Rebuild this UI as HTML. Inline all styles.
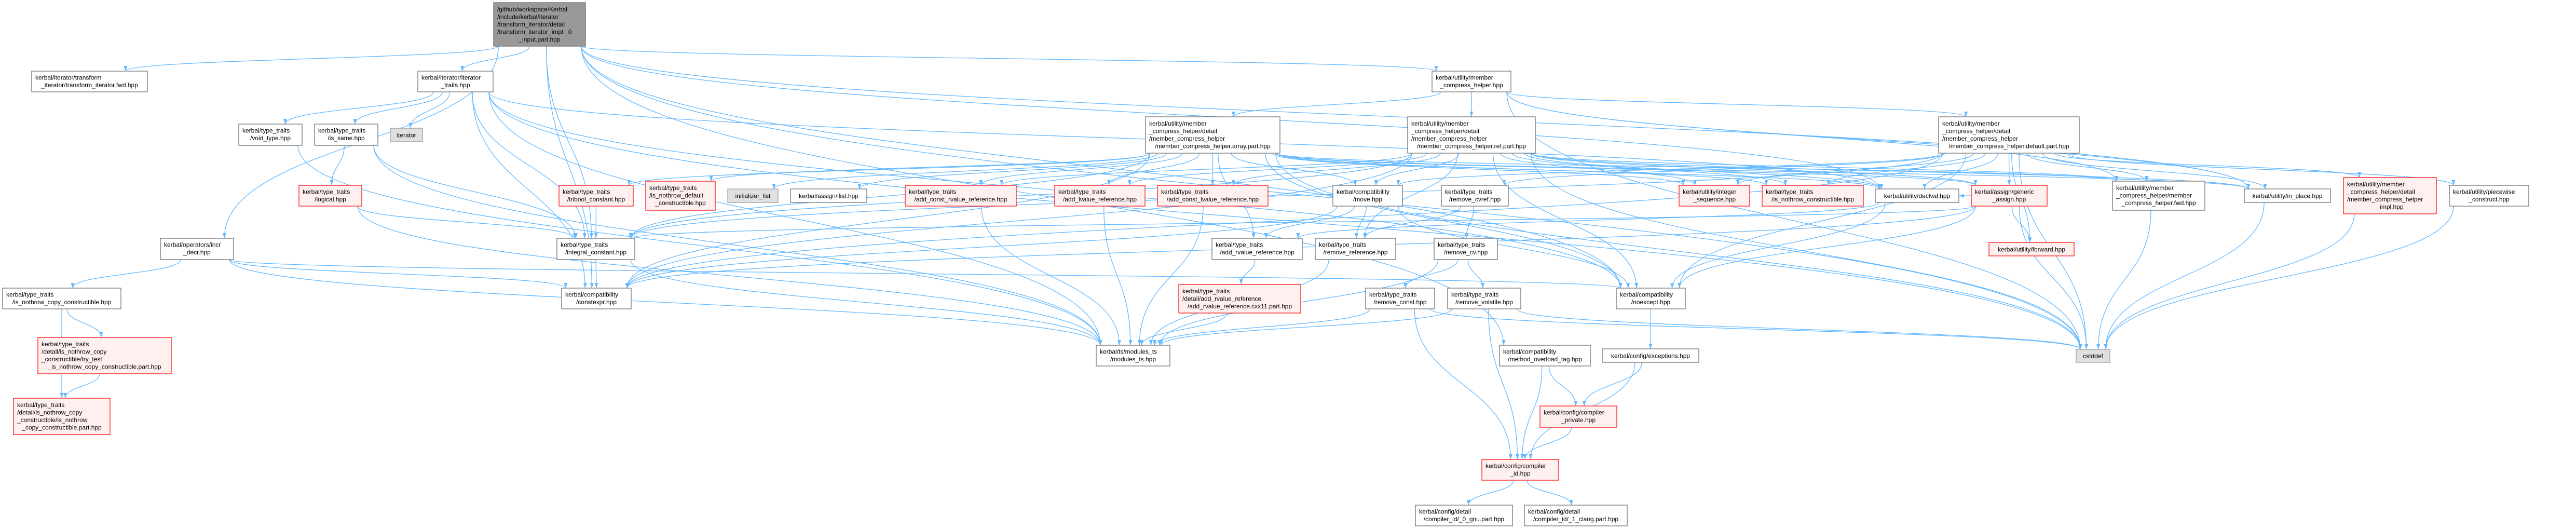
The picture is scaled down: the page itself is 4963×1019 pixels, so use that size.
<!DOCTYPE html>
<html><head><meta charset="utf-8">
<style>
html,body{margin:0;padding:0;background:#fff;}
svg{display:block;}
text{font-family:"Liberation Sans",sans-serif;font-size:12px;fill:#000;}
.n rect{fill:#fff;stroke:#666;stroke-width:1.2;}
.r rect{fill:#fff0f0;stroke:#f00;stroke-width:1.2;}
.g rect{fill:#e0e0e0;stroke:#999;stroke-width:1.2;}
.m rect{fill:#999;stroke:#666;stroke-width:1.2;}
.c{text-anchor:middle;}
</style></head>
<body>
<svg id="s" width="4963" height="1019" viewBox="0 0 4963 1019" xmlns="http://www.w3.org/2000/svg">
<defs><marker id="a" markerUnits="userSpaceOnUse" markerWidth="11" markerHeight="8" refX="10" refY="3.5" orient="auto"><path d="M0,0 L10,3.5 L0,7 z" fill="#63b8ff"/></marker></defs>
<g id="edges" fill="none" stroke="#63b8ff" stroke-width="1.3"></g>
<g id="nodes">
<g class="m"><rect x="951" y="5" width="177" height="84"/><text x="958" y="21.75">/github/workspace/Kerbal</text><text x="958" y="36.25">/include/kerbal/iterator</text><text x="958" y="50.75">/transform_iterator/detail</text><text x="958" y="65.25">/transform_iterator_impl._0</text><text class="c" x="1039.5" y="79.75">_input.part.hpp</text></g>
<g class="n"><rect x="61" y="137" width="223" height="40"/><text x="68" y="153.5">kerbal/iterator/transform</text><text class="c" x="172.5" y="168">_iterator/transform_iterator.fwd.hpp</text></g>
<g class="n"><rect x="805" y="137" width="145" height="40"/><text x="812" y="153.5">kerbal/iterator/iterator</text><text class="c" x="877.5" y="168">_traits.hpp</text></g>
<g class="n"><rect x="460" y="239" width="122" height="41"/><text x="467" y="255.5">kerbal/type_traits</text><text class="c" x="521" y="270">/void_type.hpp</text></g>
<g class="n"><rect x="606" y="239" width="122" height="41"/><text x="613" y="255.5">kerbal/type_traits</text><text class="c" x="667" y="270">/is_same.hpp</text></g>
<g class="g"><rect x="752" y="247" width="62" height="26"/><text class="c" x="783" y="264.5">iterator</text></g>
<g class="r"><rect x="576" y="357" width="121" height="40"/><text x="583" y="373.5">kerbal/type_traits</text><text class="c" x="636.5" y="388">/logical.hpp</text></g>
<g class="n"><rect x="309" y="459" width="141" height="41"/><text x="316" y="475.5">kerbal/operators/incr</text><text class="c" x="379.5" y="490">_decr.hpp</text></g>
<g class="n"><rect x="5" y="555" width="228" height="40"/><text x="12" y="571.5">kerbal/type_traits</text><text class="c" x="119" y="586">/is_nothrow_copy_constructible.hpp</text></g>
<g class="r"><rect x="73" y="650" width="257" height="70"/><text x="80" y="667">kerbal/type_traits</text><text x="80" y="681.5">/detail/is_nothrow_copy</text><text x="80" y="696">_constructible/try_test</text><text class="c" x="201.5" y="710.5">_is_nothrow_copy_constructible.part.hpp</text></g>
<g class="r"><rect x="26" y="767" width="186" height="70"/><text x="33" y="784">kerbal/type_traits</text><text x="33" y="798.5">/detail/is_nothrow_copy</text><text x="33" y="813">_constructible/is_nothrow</text><text class="c" x="119" y="827.5">_copy_constructible.part.hpp</text></g>
<g class="r"><rect x="1077" y="357" width="143" height="40"/><text x="1084" y="373.5">kerbal/type_traits</text><text class="c" x="1148.5" y="388">/tribool_constant.hpp</text></g>
<g class="r"><rect x="1244" y="349" width="134" height="56"/><text x="1251" y="366">kerbal/type_traits</text><text x="1251" y="380.5">/is_nothrow_default</text><text class="c" x="1311" y="395">_constructible.hpp</text></g>
<g class="g"><rect x="1402" y="364" width="97" height="26"/><text class="c" x="1450.5" y="381.5">initializer_list</text></g>
<g class="n"><rect x="1523" y="364" width="147" height="26"/><text class="c" x="1596.5" y="381.5">kerbal/assign/ilist.hpp</text></g>
<g class="r"><rect x="1744" y="357" width="214" height="40"/><text x="1751" y="373.5">kerbal/type_traits</text><text class="c" x="1851" y="388">/add_const_rvalue_reference.hpp</text></g>
<g class="n"><rect x="1073" y="459" width="150" height="41"/><text x="1080" y="475.5">kerbal/type_traits</text><text class="c" x="1148" y="490">/integral_constant.hpp</text></g>
<g class="n"><rect x="1082" y="555" width="134" height="40"/><text x="1089" y="571.5">kerbal/compatibility</text><text class="c" x="1149" y="586">/constexpr.hpp</text></g>
<g class="n"><rect x="2759" y="137" width="152" height="40"/><text x="2766" y="153.5">kerbal/utility/member</text><text class="c" x="2835" y="168">_compress_helper.hpp</text></g>
<g class="n"><rect x="2207" y="225" width="259" height="70"/><text x="2214" y="242">kerbal/utility/member</text><text x="2214" y="256.5">_compress_helper/detail</text><text x="2214" y="271">/member_compress_helper</text><text class="c" x="2336.5" y="285.5">/member_compress_helper.array.part.hpp</text></g>
<g class="n"><rect x="2712" y="225" width="246" height="70"/><text x="2719" y="242">kerbal/utility/member</text><text x="2719" y="256.5">_compress_helper/detail</text><text x="2719" y="271">/member_compress_helper</text><text class="c" x="2835" y="285.5">/member_compress_helper.ref.part.hpp</text></g>
<g class="n"><rect x="3735" y="225" width="271" height="70"/><text x="3742" y="242">kerbal/utility/member</text><text x="3742" y="256.5">_compress_helper/detail</text><text x="3742" y="271">/member_compress_helper</text><text class="c" x="3870.5" y="285.5">/member_compress_helper.default.part.hpp</text></g>
<g class="r"><rect x="2032" y="357" width="174" height="40"/><text x="2039" y="373.5">kerbal/type_traits</text><text class="c" x="2119" y="388">/add_lvalue_reference.hpp</text></g>
<g class="r"><rect x="2230" y="357" width="213" height="40"/><text x="2237" y="373.5">kerbal/type_traits</text><text class="c" x="2336.5" y="388">/add_const_lvalue_reference.hpp</text></g>
<g class="n"><rect x="2568" y="357" width="134" height="40"/><text x="2575" y="373.5">kerbal/compatibility</text><text class="c" x="2635" y="388">/move.hpp</text></g>
<g class="n"><rect x="2777" y="357" width="129" height="40"/><text x="2784" y="373.5">kerbal/type_traits</text><text class="c" x="2841.5" y="388">/remove_cvref.hpp</text></g>
<g class="r"><rect x="3235" y="357" width="136" height="40"/><text x="3242" y="373.5">kerbal/utility/integer</text><text class="c" x="3303" y="388">_sequence.hpp</text></g>
<g class="r"><rect x="3395" y="357" width="195" height="40"/><text x="3402" y="373.5">kerbal/type_traits</text><text class="c" x="3492.5" y="388">/is_nothrow_constructible.hpp</text></g>
<g class="n"><rect x="3613" y="364" width="161" height="26"/><text class="c" x="3693.5" y="381.5">kerbal/utility/declval.hpp</text></g>
<g class="r"><rect x="3798" y="357" width="146" height="40"/><text x="3805" y="373.5">kerbal/assign/generic</text><text class="c" x="3871" y="388">_assign.hpp</text></g>
<g class="r"><rect x="3832" y="467" width="164" height="26"/><text class="c" x="3914" y="484.5">kerbal/utility/forward.hpp</text></g>
<g class="n"><rect x="4070" y="349" width="178" height="56"/><text x="4077" y="366">kerbal/utility/member</text><text x="4077" y="380.5">_compress_helper/member</text><text class="c" x="4159" y="395">_compress_helper.fwd.hpp</text></g>
<g class="n"><rect x="4324" y="364" width="166" height="26"/><text class="c" x="4407" y="381.5">kerbal/utility/in_place.hpp</text></g>
<g class="r"><rect x="4515" y="342" width="179" height="70"/><text x="4522" y="359">kerbal/utility/member</text><text x="4522" y="373.5">_compress_helper/detail</text><text x="4522" y="388">/member_compress_helper</text><text class="c" x="4604.5" y="402.5">_impl.hpp</text></g>
<g class="n"><rect x="4719" y="357" width="153" height="40"/><text x="4726" y="373.5">kerbal/utility/piecewise</text><text class="c" x="4795.5" y="388">_construct.hpp</text></g>
<g class="n"><rect x="2335" y="459" width="174" height="41"/><text x="2342" y="475.5">kerbal/type_traits</text><text class="c" x="2422" y="490">/add_rvalue_reference.hpp</text></g>
<g class="n"><rect x="2534" y="459" width="155" height="41"/><text x="2541" y="475.5">kerbal/type_traits</text><text class="c" x="2611.5" y="490">/remove_reference.hpp</text></g>
<g class="n"><rect x="2763" y="459" width="122" height="41"/><text x="2770" y="475.5">kerbal/type_traits</text><text class="c" x="2824" y="490">/remove_cv.hpp</text></g>
<g class="r"><rect x="2271" y="548" width="235" height="55"/><text x="2278" y="565">kerbal/type_traits</text><text x="2278" y="579.5">/detail/add_rvalue_reference</text><text class="c" x="2388.5" y="594">/add_rvalue_reference.cxx11.part.hpp</text></g>
<g class="n"><rect x="2631" y="555" width="133" height="40"/><text x="2638" y="571.5">kerbal/type_traits</text><text class="c" x="2697.5" y="586">/remove_const.hpp</text></g>
<g class="n"><rect x="2789" y="555" width="141" height="40"/><text x="2796" y="571.5">kerbal/type_traits</text><text class="c" x="2859.5" y="586">/remove_volatile.hpp</text></g>
<g class="n"><rect x="3114" y="555" width="133" height="40"/><text x="3121" y="571.5">kerbal/compatibility</text><text class="c" x="3180.5" y="586">/noexcept.hpp</text></g>
<g class="n"><rect x="2112" y="665" width="142" height="40"/><text x="2119" y="681.5">kerbal/ts/modules_ts</text><text class="c" x="2183" y="696">/modules_ts.hpp</text></g>
<g class="n"><rect x="2889" y="665" width="175" height="40"/><text x="2896" y="681.5">kerbal/compatibility</text><text class="c" x="2976.5" y="696">/method_overload_tag.hpp</text></g>
<g class="n"><rect x="3087" y="672" width="186" height="26"/><text class="c" x="3180" y="689.5">kerbal/config/exceptions.hpp</text></g>
<g class="g"><rect x="4000" y="673" width="65" height="25"/><text class="c" x="4032.5" y="690">cstddef</text></g>
<g class="r"><rect x="2967" y="782" width="148" height="41"/><text x="2974" y="798.5">kerbal/config/compiler</text><text class="c" x="3041" y="813">_private.hpp</text></g>
<g class="r"><rect x="2855" y="885" width="148" height="40"/><text x="2862" y="901.5">kerbal/config/compiler</text><text class="c" x="2929" y="916">_id.hpp</text></g>
<g class="n"><rect x="2727" y="973" width="187" height="40"/><text x="2734" y="989.5">kerbal/config/detail</text><text class="c" x="2820.5" y="1004">/compiler_id/_0_gnu.part.hpp</text></g>
<g class="n"><rect x="2937" y="973" width="198" height="40"/><text x="2944" y="989.5">kerbal/config/detail</text><text class="c" x="3036" y="1004">/compiler_id/_1_clang.part.hpp</text></g>
</g>
</svg>
<script>
(function(){
var B={M:[951,5,1128,89],TF:[61,137,284,177],IT:[805,137,950,177],VT:[460,239,582,280],IS:[606,239,728,280],ITR:[752,247,814,273],LG:[576,357,697,397],ID:[309,459,450,500],NCC:[5,555,233,595],TT:[73,650,330,720],NCP:[26,767,212,837],TB:[1077,357,1220,397],ND:[1244,349,1378,405],IL:[1402,364,1499,390],AI:[1523,364,1670,390],ACR:[1744,357,1958,397],IC:[1073,459,1223,500],CE:[1082,555,1216,595],MCH:[2759,137,2911,177],AP:[2207,225,2466,295],RP:[2712,225,2958,295],DP:[3735,225,4006,295],ALR:[2032,357,2206,397],ACL:[2230,357,2443,397],MV:[2568,357,2702,397],RCR:[2777,357,2906,397],IS2:[3235,357,3371,397],NC:[3395,357,3590,397],DV:[3613,364,3774,390],GA:[3798,357,3944,397],FW:[3832,467,3996,493],FWD:[4070,349,4248,405],IP:[4324,364,4490,390],IMPL:[4515,342,4694,412],PC:[4719,357,4872,397],ARR:[2335,459,2509,500],RR:[2534,459,2689,500],RCV:[2763,459,2885,500],CXX:[2271,548,2506,603],RC:[2631,555,2764,595],RV:[2789,555,2930,595],NE:[3114,555,3247,595],MTS:[2112,665,2254,705],MOT:[2889,665,3064,705],EX:[3087,672,3273,698],CS:[4000,673,4065,698],CP:[2967,782,3115,823],CID:[2855,885,3003,925],GNU:[2727,973,2914,1013],CL:[2937,973,3135,1013]};
var E="M>TF M>IT M>ID M>IC M>CE M>MCH M>NE M>CS M>IP M>MOT M>DV "+
"IT>VT IT>IS IT>ITR IT>IC IT>CE IT>MTS IT>NE IT>DV IT>CS "+
"VT>MTS IS>LG IS>IC IS>MTS LG>IC LG>MTS ID>NCC ID>CE ID>NE ID>MTS "+
"NCC>TT NCC>NCP TT>NCP TB>IC IC>CE IC>MTS "+
"MCH>AP MCH>RP MCH>DP MCH>FWD MCH>IP MCH>CS "+
"AP>TB AP>ND AP>IL AP>AI AP>ACR AP>ALR AP>ACL AP>MV AP>IC AP>CE AP>NE AP>IS2 AP>NC AP>DV AP>GA AP>FWD AP>IP AP>CS AP>ARR "+
"RP>ALR RP>ACL RP>ACR RP>MV RP>RR RP>IC RP>CE RP>NE RP>FWD RP>IP RP>DV RP>NC RP>GA RP>IS2 RP>CS "+
"DP>IS2 DP>NC DP>DV DP>GA DP>FW DP>FWD DP>IP DP>IMPL DP>PC DP>RCR DP>MV DP>CE DP>NE DP>CS DP>IC "+
"ALR>MTS ACL>MTS ACR>MTS MV>RR MV>ARR MV>CE MV>NE RCR>RR RCR>RCV ARR>CXX CXX>MTS RR>MTS "+
"RCV>RC RCV>RV RCV>MTS RC>MTS RC>CID RC>CS RV>MTS RV>CID RV>CS DV>ARR DV>NE "+
"GA>FW GA>DV GA>CE GA>NE GA>CS GA>IC NE>EX EX>CP EX>CID MOT>CID MOT>CP CP>CID CID>GNU CID>CL "+
"FWD>CS IP>CS PC>CS IMPL>CS";
var g=document.getElementById('edges'),ns='http://www.w3.org/2000/svg';
function cl(v,a,b){return Math.max(a,Math.min(b,v));}
E.split(/\s+/).forEach(function(e){
 if(!e)return;var p=e.split('>'),s=B[p[0]],t=B[p[1]];if(!s||!t)return;
 var scx=(s[0]+s[2])/2,tcx=(t[0]+t[2])/2;
 var sx=cl(scx+(tcx-scx)*0.12,s[0]+8,s[2]-8),sy=s[3];
 var tx=cl(tcx+(scx-tcx)*0.08,t[0]+8,t[2]-8),ty=t[1];
 var d;
 if(ty>sy+5){var m=(ty-sy)*0.5;d='M'+sx+','+sy+' C'+sx+','+(sy+m)+' '+tx+','+(ty-m)+' '+tx+','+ty;}
 else{var sxs=tcx>scx?s[2]:s[0],txs=tcx>scx?t[0]:t[2],yy=(s[1]+s[3])/2,ty2=(t[1]+t[3])/2;d='M'+sxs+','+yy+' C'+((sxs+txs)/2)+','+yy+' '+((sxs+txs)/2)+','+ty2+' '+txs+','+ty2;}
 var el=document.createElementNS(ns,'path');el.setAttribute('d',d);el.setAttribute('marker-end','url(#a)');g.appendChild(el);
});
})();
</script>
</body></html>
